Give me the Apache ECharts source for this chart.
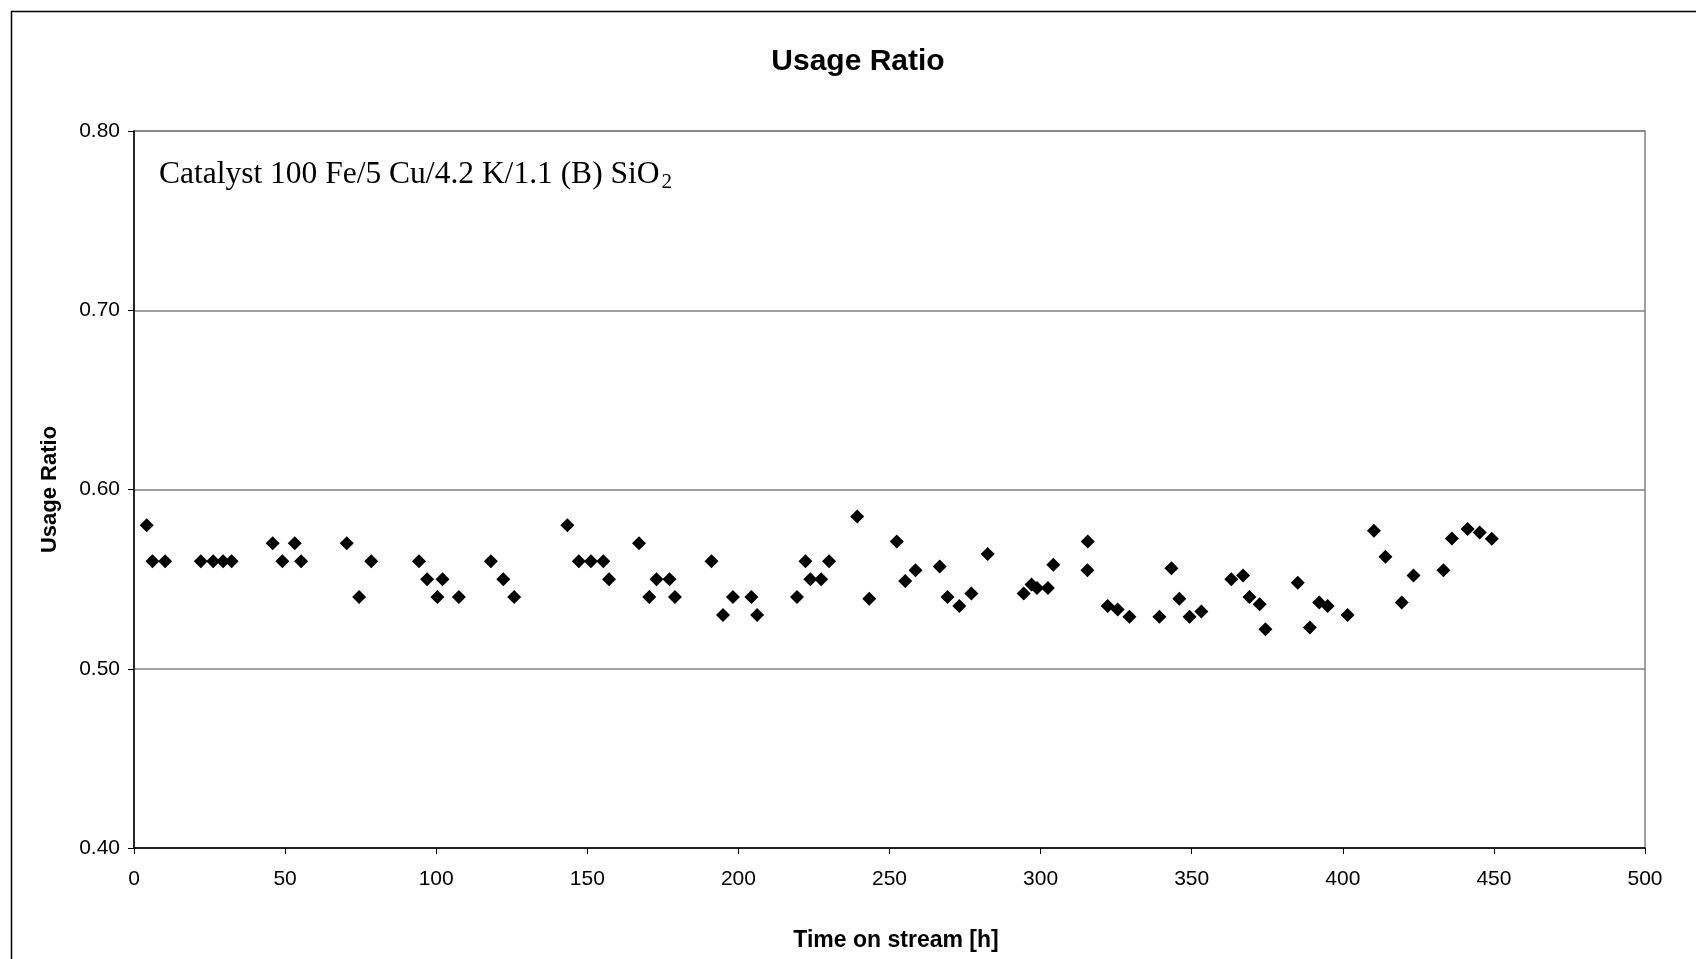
<!DOCTYPE html>
<html>
<head>
<meta charset="utf-8">
<script src="https://cdn.jsdelivr.net/npm/echarts@6/dist/echarts.min.js"></script>
<style>html,body{margin:0;padding:0;background:#fff}#c{width:1696px;height:959px}</style>
</head>
<body>
<div id="c"></div>
<script>
const chartTitle = 'Usage Ratio';
const xAxisName = 'Time on stream [h]';
const yAxisName = 'Usage Ratio';
const timeHours = [4.2,6.1,10.3,22.1,26.2,29.5,32.3,45.9,49.1,53.2,55.3,70.4,74.5,78.5,94.3,97.0,100.4,102.1,107.5,118.1,122.2,125.8,
  143.4,147.2,151.2,155.3,157.2,167.1,170.5,172.9,177.2,179.0,191.1,194.9,198.2,204.3,206.2,219.4,222.2,223.8,227.4,230.0,239.3,243.3,
  252.4,255.2,258.6,266.6,269.2,273.1,277.1,282.5,294.4,297.0,298.8,302.4,304.2,315.6,315.5,322.2,325.5,329.4,339.3,343.3,345.9,349.3,353.2,
  363.1,367.0,369.1,372.5,374.4,385.1,389.1,392.2,395.0,401.6,410.3,414.1,419.5,423.4,433.3,436.1,441.3,445.3,449.3];
const usageRatio = [0.580,0.560,0.560,0.560,0.560,0.560,0.560,0.570,0.560,0.570,0.560,0.570,0.540,0.560,0.560,0.550,0.540,0.550,0.540,0.560,0.550,0.540,
  0.580,0.560,0.560,0.560,0.550,0.570,0.540,0.550,0.550,0.540,0.560,0.530,0.540,0.540,0.530,0.540,0.560,0.550,0.550,0.560,0.585,0.539,
  0.571,0.549,0.555,0.557,0.540,0.535,0.542,0.564,0.542,0.547,0.545,0.545,0.558,0.571,0.555,0.535,0.533,0.529,0.529,0.556,0.539,0.529,0.532,
  0.550,0.552,0.540,0.536,0.522,0.548,0.523,0.537,0.535,0.530,0.577,0.5625,0.537,0.552,0.555,0.5726,0.578,0.576,0.5725];
const xTicks = {min: 0, max: 500, interval: 50};
const yTicks = {min: 0.40, max: 0.80, interval: 0.10};

const points = timeHours.map((t, i) => [t, usageRatio[i]]);
const chart = echarts.init(document.getElementById('c'), null, {renderer: 'canvas'});
chart.setOption({
  backgroundColor: '#fff',
  animation: false,
  title: {
    text: chartTitle, left: 853, top: 42, textAlign: 'center',
    textStyle: {fontFamily: 'Liberation Sans, Arial', fontWeight: 'bold', fontSize: 30, color: '#000'}
  },
  grid: {left: 134, right: 51, top: 131, bottom: 111, show: true, borderColor: '#808080', borderWidth: 1.5, backgroundColor: 'transparent'},
  xAxis: {
    type: 'value', min: xTicks.min, max: xTicks.max, interval: xTicks.interval,
    name: xAxisName, nameLocation: 'middle', nameGap: 81,
    nameTextStyle: {fontFamily: 'Liberation Sans, Arial', fontWeight: 'bold', fontSize: 23, color: '#000', padding: [0, 0, 0, 13]},
    axisLine: {lineStyle: {color: '#000', width: 1.5}},
    axisTick: {show: true, length: 6, lineStyle: {color: '#000'}},
    axisLabel: {fontFamily: 'Liberation Sans, Arial', fontSize: 21, color: '#000', margin: 21},
    splitLine: {show: false}
  },
  yAxis: {
    type: 'value', min: yTicks.min, max: yTicks.max, interval: yTicks.interval,
    name: yAxisName, nameLocation: 'middle', nameGap: 73, nameRotate: 90,
    nameTextStyle: {fontFamily: 'Liberation Sans, Arial', fontWeight: 'bold', fontSize: 22, color: '#000'},
    axisLine: {show: true, lineStyle: {color: '#000', width: 1.5}},
    axisTick: {show: true, length: 6, lineStyle: {color: '#000'}},
    axisLabel: {fontFamily: 'Liberation Sans, Arial', fontSize: 21, color: '#000', margin: 14, formatter: v => v.toFixed(2)},
    splitLine: {show: true, lineStyle: {color: '#808080', width: 1.5}}
  },
  graphic: [
    {type: 'rect', left: 9, top: 9, shape: {width: 1700, height: 1000}, style: {fill: 'none', stroke: '#000', lineWidth: 1.5}, silent: true, z: -1},
    {type: 'text', left: 159, top: 159, style: {
      rich: {
        m: {fontFamily: 'Liberation Serif, Times New Roman', fontSize: 31.5, fill: '#000'},
        s: {fontFamily: 'Liberation Serif, Times New Roman', fontSize: 21, fill: '#000', padding: [15, 0, 0, 2]}
      },
      text: '{m|Catalyst 100 Fe/5 Cu/4.2 K/1.1 (B) SiO}{s|2}'
    }}
  ],
  series: [{
    type: 'scatter', data: points, symbol: 'diamond', symbolSize: 14,
    itemStyle: {color: '#000', opacity: 1}
  }]
});
</script>
</body>
</html>
